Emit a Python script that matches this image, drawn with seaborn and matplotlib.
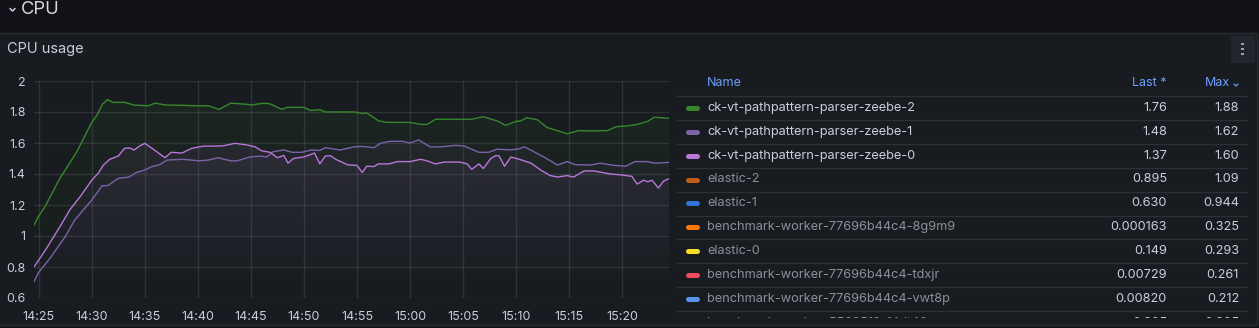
import numpy as np
import pandas as pd
import matplotlib
matplotlib.use("Agg")
import matplotlib.pyplot as plt
import matplotlib.dates as mdates
from matplotlib.ticker import FuncFormatter, FixedLocator
import seaborn as sns

# ---------------- data (minutes after 14:25, CPU cores) ----------------
green_t = [-0.44, -0.03, 0.6, 2.0, 3.6, 5.0, 5.5, 6.0, 6.5, 7.0, 8.1, 9.0, 10.3, 11.0, 12.0, 13.6, 15.0,
           16.0, 17.0, 18.1, 19.6, 20.0, 21.2, 21.8, 22.9, 23.4, 25.0, 25.6, 26.5, 27.0, 28.4, 29.8,
           30.5, 30.9, 32.0, 32.8, 35.0, 36.0, 36.6, 37.4, 40.8, 41.9, 43.3, 44.0, 45.0, 45.4, 46.0,
           47.0, 47.9, 49.2, 49.8, 50.9, 52.0, 53.6, 54.4, 55.4, 56.4, 57.4, 58.0, 59.4]
green_v = [1.07, 1.125, 1.19, 1.372, 1.544, 1.733, 1.78, 1.85, 1.88, 1.862, 1.862, 1.845, 1.84, 1.857,
           1.845, 1.843, 1.84, 1.84, 1.817, 1.857, 1.85, 1.845, 1.857, 1.853, 1.817, 1.83, 1.83, 1.81,
           1.815, 1.80, 1.80, 1.80, 1.79, 1.795, 1.744, 1.733, 1.733, 1.72, 1.72, 1.753, 1.753, 1.77,
           1.74, 1.714, 1.74, 1.742, 1.763, 1.75, 1.70, 1.673, 1.66, 1.68, 1.678, 1.68, 1.705, 1.71,
           1.72, 1.74, 1.766, 1.76]

purple_t = [-0.44, -0.03, 1.07, 2.5, 3.4, 5.0, 6.0, 6.5, 7.5, 8.5, 9.2, 10.0, 10.6, 11.4, 12.1, 13.6,
            15.1, 16.0, 16.9, 18.1, 18.7, 19.9, 20.9, 21.5, 22.1, 23.1, 23.9, 24.8, 25.7, 26.5, 27.0,
            28.4, 29.8, 30.5, 31.6, 32.2, 33.0, 34.2, 35.0, 35.8, 36.9, 37.9, 39.3, 40.1, 40.8, 41.5,
            42.4, 43.2, 44.4, 45.1, 45.8, 46.5, 47.6, 48.9, 49.8, 50.6, 52.0, 52.9, 54.2, 55.3, 56.2,
            57.4, 58.0, 59.4]
purple_v = [0.705, 0.763, 0.856, 0.996, 1.103, 1.232, 1.325, 1.325, 1.372, 1.38, 1.41, 1.426, 1.446,
            1.46, 1.49, 1.495, 1.485, 1.49, 1.505, 1.485, 1.485, 1.51, 1.515, 1.51, 1.544, 1.555, 1.54,
            1.54, 1.555, 1.552, 1.57, 1.555, 1.576, 1.578, 1.57, 1.598, 1.61, 1.612, 1.60, 1.62, 1.575,
            1.575, 1.585, 1.58, 1.56, 1.54, 1.54, 1.56, 1.556, 1.56, 1.575, 1.55, 1.51, 1.458, 1.48,
            1.46, 1.458, 1.47, 1.456, 1.45, 1.48, 1.48, 1.47, 1.475]

violet_t = [-0.44, 0.6, 2.0, 2.95, 3.9, 5.0, 5.6, 6.1, 6.7, 7.5, 8.1, 8.6, 9.0, 9.5, 10.0, 10.9, 11.9,
            12.5, 13.5, 14.4, 15.5, 16.5, 17.4, 18.5, 19.6, 20.4, 21.0, 21.8, 22.5, 23.1, 23.5, 24.0,
            25.0, 26.0, 26.5, 27.0, 27.5, 28.0, 29.1, 30.0, 30.5, 30.9, 31.6, 32.0, 33.0, 33.8, 35.0,
            36.0, 36.6, 37.4, 38.2, 39.7, 40.4, 40.8, 41.5, 41.9, 42.6, 43.1, 43.4, 43.9, 44.5, 45.3,
            46.4, 47.3, 48.2, 48.9, 49.8, 50.4, 51.4, 52.3, 53.9, 54.8, 55.9, 56.4, 57.0, 57.4, 57.8,
            58.4, 58.9, 59.4]
violet_v = [0.80, 0.905, 1.06, 1.17, 1.253, 1.36, 1.404, 1.458, 1.495, 1.516, 1.566, 1.568, 1.555,
            1.58, 1.598, 1.555, 1.505, 1.54, 1.535, 1.565, 1.58, 1.58, 1.582, 1.598, 1.588, 1.575,
            1.55, 1.54, 1.505, 1.52, 1.47, 1.50, 1.51, 1.535, 1.465, 1.515, 1.518, 1.495, 1.46, 1.455,
            1.41, 1.45, 1.448, 1.465, 1.465, 1.48, 1.48, 1.495, 1.485, 1.465, 1.477, 1.477, 1.465,
            1.43, 1.465, 1.435, 1.50, 1.52, 1.515, 1.45, 1.51, 1.495, 1.47, 1.426, 1.39, 1.38, 1.39,
            1.38, 1.42, 1.42, 1.40, 1.395, 1.385, 1.335, 1.36, 1.35, 1.36, 1.31, 1.355, 1.37]

legend_names = ["ck-vt-pathpattern-parser-zeebe-2", "ck-vt-pathpattern-parser-zeebe-1",
                "ck-vt-pathpattern-parser-zeebe-0", "elastic-2", "elastic-1",
                "benchmark-worker-77696b44c4-8g9m9", "elastic-0",
                "benchmark-worker-77696b44c4-tdxjr", "benchmark-worker-77696b44c4-vwt8p",
                "benchmark-worker-55685f8-f4dt46"]
legend_last = ["1.76", "1.48", "1.37", "0.895", "0.630", "0.000163", "0.149", "0.00729", "0.00820", "0.205"]
legend_max = ["1.88", "1.62", "1.60", "1.09", "0.944", "0.325", "0.293", "0.261", "0.212", "0.205"]
legend_colors = ["#37872d", "#7b62a9", "#b877d9", "#c15c17", "#3274d9", "#ff780a", "#fade2a",
                 "#f2495c", "#5794f2", "#73bf69"]
legend_visible = [True, True, True, False, False, False, False, False, False, False]

y_ticks = [0.6, 0.8, 1.0, 1.2, 1.4, 1.6, 1.8, 2.0]

# ---------------- styling ----------------
PAGE = "#111217"
PANEL = "#181b1f"
BORDER = "#2a2d33"
TXT = "#ccccdc"
DIM = "#8e8e99"
BLUE = "#6e9fff"

sns.set_theme(style="dark")
plt.rcParams["font.family"] = ["Inter", "DejaVu Sans"]

W, H = 1259, 328
fig = plt.figure(figsize=(W / 100, H / 100), dpi=100, facecolor=PAGE)

# background overlay in pixel coords
bg = fig.add_axes([0, 0, 1, 1], zorder=0)
bg.set_xlim(0, W)
bg.set_ylim(H, 0)
bg.axis("off")
bg.add_patch(plt.Rectangle((0, 0), W, H, facecolor=PAGE, edgecolor="none"))
bg.add_patch(plt.Rectangle((-2, 32.5), 1259.5, 292.5, facecolor=PANEL, edgecolor=BORDER, lw=1))
# kebab menu
bg.add_patch(plt.Rectangle((1231, 36), 24, 27, facecolor="#22252b", edgecolor="none"))
for yy in (44, 49, 54):
    bg.add_patch(plt.Rectangle((1241.5, yy - 1.3), 2.6, 2.6, facecolor="#a0a0aa", edgecolor="none"))
# row chevron
bg.plot([10, 12.5, 15], [8.5, 11, 8.5], color=TXT, lw=1.1, solid_capstyle="round")
bg.text(21, 9, "CPU", color="#d8d9e0", fontsize=13.2, va="center", ha="left")
bg.text(7, 48.5, "CPU usage", color=TXT, fontsize=10.5, va="center", ha="left")

# ---------------- chart ----------------
base = pd.Timestamp("2024-01-01 14:25")
series = [("ck-vt-pathpattern-parser-zeebe-2", green_t, green_v),
          ("ck-vt-pathpattern-parser-zeebe-1", purple_t, purple_v),
          ("ck-vt-pathpattern-parser-zeebe-0", violet_t, violet_v)]
frames = []
for name, t, v in series:
    frames.append(pd.DataFrame({"time": base + pd.to_timedelta(np.array(t), unit="m"),
                                "cpu": v, "series": name}))
df = pd.concat(frames, ignore_index=True)
palette = dict(zip(legend_names[:3], legend_colors[:3]))

ax = fig.add_axes([34 / W, (H - 298) / H, (669 - 34) / W, (298 - 81) / H], zorder=2)
ax.set_facecolor("none")

ymin, ymax = 0.6, 2.0
xmin, xmax = df["time"].min(), df["time"].max()

# gradient fills
for name, t, v in series:
    sub = df[df["series"] == name]
    xs = mdates.date2num(sub["time"])
    poly = ax.fill_between(xs, sub["cpu"].values, ymin, facecolor="none", edgecolor="none")
    col = matplotlib.colors.to_rgb(palette[name])
    n = 200
    grad = np.zeros((n, 2, 4))
    grad[..., 0], grad[..., 1], grad[..., 2] = col
    a = np.linspace(0.11, 0.0, n)[:, None]
    grad[..., 3] = a
    im = ax.imshow(grad, extent=[xs.min(), xs.max(), ymin, ymax], origin="upper",
                   aspect="auto", interpolation="bilinear", zorder=1)
    im.set_clip_path(poly.get_paths()[0], transform=ax.transData)

sns.lineplot(data=df, x="time", y="cpu", hue="series", palette=palette, estimator=None,
             sort=True, legend=False, lw=1.0, ax=ax, zorder=3)

ax.set_xlim(mdates.date2num(xmin), mdates.date2num(xmax))
ax.set_ylim(ymin, ymax)
ax.yaxis.set_major_locator(FixedLocator(y_ticks))
ax.yaxis.set_major_formatter(FuncFormatter(lambda v, p: f"{v:g}"))
ax.xaxis.set_major_locator(mdates.MinuteLocator(byminute=range(0, 60, 5)))
ax.xaxis.set_major_formatter(mdates.DateFormatter("%H:%M"))
ax.grid(True, color="#ccccdc", alpha=0.13, lw=1)
ax.set_axisbelow(True)
for s in ax.spines.values():
    s.set_visible(False)
ax.tick_params(axis="both", length=0, colors=TXT, labelsize=9)
ax.tick_params(axis="y", pad=6)
ax.tick_params(axis="x", pad=9)
ax.set_xlabel("")
ax.set_ylabel("")

# ---------------- legend table ----------------
lg = fig.add_axes([676 / W, (H - 317.5) / H, (1252 - 676) / W, (317.5 - 70) / H], zorder=3)
lg.set_xlim(676, 1252)
lg.set_ylim(317.5, 70)
lg.axis("off")
lg.text(707, 83.5, "Name", color=BLUE, fontsize=9, va="center", ha="left")
lg.text(1167, 83.5, "Last *", color=BLUE, fontsize=9, va="center", ha="right")
lg.text(1230, 83.5, "Max", color=BLUE, fontsize=9, va="center", ha="right")
lg.plot([1234, 1236, 1238], [84, 86, 84], color=BLUE, lw=0.9)
for i in range(len(legend_names)):
    yline = 96 + 23.9 * i
    lg.plot([677, 1247], [yline, yline], color="#2c2f36", lw=1, clip_on=True)
    yc = 107.8 + 23.9 * i
    lg.plot([688, 697], [yc, yc], color=legend_colors[i], lw=3.6, solid_capstyle="round", clip_on=True)
    lg.text(707, yc, legend_names[i], color=TXT if legend_visible[i] else DIM, fontsize=9.2,
            va="center", ha="left", clip_on=True)
    lg.text(1167, yc, legend_last[i], color=TXT, fontsize=9.2, va="center", ha="right", clip_on=True)
    lg.text(1239, yc, legend_max[i], color=TXT, fontsize=9.2, va="center", ha="right", clip_on=True)

fig.savefig("out.png", dpi=100, facecolor=PAGE)
